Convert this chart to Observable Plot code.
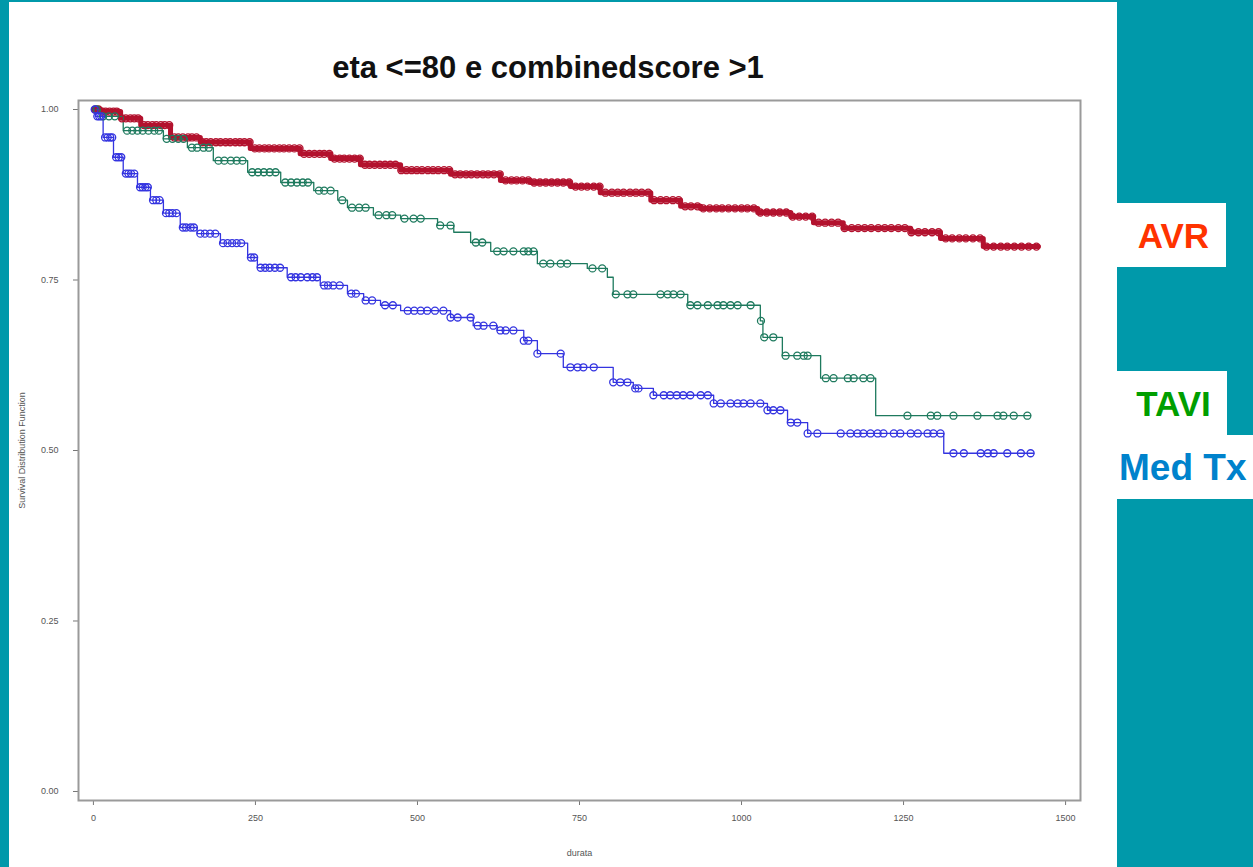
<!DOCTYPE html>
<html>
<head>
<meta charset="utf-8">
<script src="https://cdn.jsdelivr.net/npm/d3@7"></script>
<script src="https://cdn.jsdelivr.net/npm/@observablehq/plot@0.6"></script>
<style>
html,body{margin:0;padding:0;}
body{width:1253px;height:867px;background:#0099AA;position:relative;overflow:hidden;font-family:"Liberation Sans",Arial,sans-serif;}
#panel{position:absolute;left:9px;top:2px;width:1108px;height:865px;background:#fff;}
#title{position:absolute;left:9px;width:1078px;top:52px;line-height:31px;text-align:center;font-weight:bold;font-size:31px;color:#111;}
#chart{position:absolute;left:9px;top:90px;}
.box{position:absolute;background:#fff;}
.lab{position:absolute;font-weight:bold;white-space:nowrap;}
</style>
</head>
<body>
<div id="panel"></div>
<div id="title">eta &lt;=80 e combinedscore &gt;1</div>
<div id="chart"></div>
<div class="box" style="left:1117px;top:203px;width:109px;height:64px;"></div>
<div class="box" style="left:1117px;top:371px;width:110px;height:64px;"></div>
<div class="box" style="left:1117px;top:435px;width:136px;height:64px;"></div>
<div class="lab" id="labAVR" style="left:1117px;width:113px;text-align:center;top:218px;font-size:35px;line-height:35px;color:#FF3300;"></div>
<div class="lab" id="labTAVI" style="left:1117px;width:113px;text-align:center;top:386px;font-size:35px;line-height:35px;color:#009E00;"></div>
<div class="lab" id="labMED" style="left:1119px;top:449px;font-size:37px;line-height:37px;color:#0082CC;"></div>
<script>
// ---- data ----
const groupNames = ["AVR", "TAVI", "Med Tx"];
const groupColors = ["#B3122E", "#1E7A5E", "#3434E0"];

const xTicks = [0, 250, 500, 750, 1000, 1250, 1500];
const yTicks = [0, 0.25, 0.5, 0.75, 1.0];

// AVR step curve
const avrTime = [0, 11, 42, 73, 119, 165, 242, 319, 366, 412, 474, 551, 628, 674, 736, 782, 860, 906, 937, 1025, 1076, 1111, 1157, 1261, 1307, 1373, 1458];
const avrSurv = [1.0, 0.997, 0.987, 0.977, 0.959, 0.952, 0.943, 0.935, 0.928, 0.919, 0.911, 0.905, 0.896, 0.893, 0.887, 0.878, 0.867, 0.858, 0.855, 0.849, 0.843, 0.834, 0.826, 0.820, 0.811, 0.799, 0.799];
const avrCensor = [3,8,14,19,25,31,36,44,50,57,63,69,78,84,91,97,104,110,117,125,131,138,146,152,159,168,174,181,189,196,204,211,219,226,233,241,249,256,264,271,279,287,294,302,310,318,325,333,341,349,356,364,372,380,387,395,403,411,419,426,434,442,450,458,466,475,483,491,499,507,516,524,532,541,549,558,566,575,583,592,601,609,618,627,636,645,653,662,671,680,689,698,707,716,725,734,744,753,762,772,781,790,800,809,818,828,837,846,856,865,875,884,894,903,913,922,932,941,951,961,970,980,990,1000,1009,1019,1029,1039,1049,1059,1069,1079,1089,1099,1109,1119,1129,1139,1149,1159,1170,1180,1190,1200,1211,1221,1231,1242,1252,1262,1273,1283,1294,1304,1315,1325,1336,1346,1357,1368,1378,1389,1400,1410,1421,1432,1443,1455];

// TAVI step curve
const taviTime = [0, 11, 46, 108, 145, 185, 238, 289, 340, 377, 392, 432, 474, 531, 556, 582, 613, 685, 762, 793, 802, 917, 1029, 1033, 1063, 1122, 1207, 1446];
const taviSurv = [1.0, 0.99, 0.969, 0.957, 0.944, 0.925, 0.908, 0.893, 0.881, 0.867, 0.856, 0.845, 0.840, 0.830, 0.820, 0.805, 0.792, 0.774, 0.767, 0.754, 0.729, 0.713, 0.690, 0.666, 0.639, 0.606, 0.551, 0.551];
const taviCensor = [5,15,24,33,52,60,68,76,85,94,101,113,122,131,139,152,160,170,178,193,202,212,221,230,245,254,263,272,281,296,305,314,323,331,348,356,366,384,399,410,420,440,452,461,480,494,505,535,551,590,600,623,633,648,664,671,679,694,705,721,731,770,785,806,824,833,875,886,895,906,921,932,948,963,972,983,994,1014,1030,1035,1049,1068,1086,1096,1102,1130,1142,1164,1173,1188,1199,1256,1292,1302,1327,1364,1395,1404,1420,1441];

// Med Tx step curve
const medTime = [0, 3, 15, 31, 46, 68, 88, 108, 134, 160, 196, 238, 253, 299, 350, 392, 417, 443, 474, 551, 586, 623, 664, 685, 725, 802, 833, 864, 957, 1040, 1071, 1102, 1312, 1451];
const medSurv = [1.0, 0.99, 0.959, 0.930, 0.906, 0.886, 0.867, 0.848, 0.827, 0.818, 0.804, 0.783, 0.768, 0.754, 0.742, 0.730, 0.720, 0.713, 0.705, 0.695, 0.683, 0.676, 0.661, 0.642, 0.622, 0.600, 0.591, 0.581, 0.569, 0.559, 0.541, 0.525, 0.496, 0.496];
const medCensor = [2,6,9,12,18,22,26,29,35,39,43,50,54,58,63,72,76,80,84,92,97,102,112,117,122,128,138,143,150,155,165,172,180,188,200,207,214,221,228,243,248,258,265,272,280,288,305,312,320,330,338,345,356,362,370,380,398,405,420,430,450,462,485,495,505,515,527,540,551,562,582,593,602,617,628,636,648,664,671,685,721,736,747,756,772,802,813,824,836,841,864,880,890,900,910,921,937,948,957,968,983,994,1003,1014,1029,1040,1049,1060,1076,1086,1102,1117,1153,1168,1179,1188,1199,1210,1219,1235,1245,1261,1272,1287,1296,1307,1327,1343,1369,1380,1389,1410,1431,1446];

// ---- build tables ----
document.getElementById("labAVR").textContent = groupNames[0];
document.getElementById("labTAVI").textContent = groupNames[1];
document.getElementById("labMED").textContent = groupNames[2];

const series = [
  {name: groupNames[0], time: avrTime, surv: avrSurv, censor: avrCensor, color: groupColors[0]},
  {name: groupNames[1], time: taviTime, surv: taviSurv, censor: taviCensor, color: groupColors[1]},
  {name: groupNames[2], time: medTime, surv: medSurv, censor: medCensor, color: groupColors[2]}
];
function survAt(s, t) {
  let v = s.surv[0];
  for (let i = 0; i < s.time.length; i++) if (s.time[i] <= t) v = s.surv[i];
  return v;
}
const lineRows = series.flatMap(s => s.time.map((t, i) => ({group: s.name, t, s: s.surv[i]})));
const dotRows = series.flatMap(s => s.censor.map(t => ({group: s.name, t, s: survAt(s, t)})));

const plot = Plot.plot({
  width: 1108,
  height: 777,
  marginLeft: 69,
  marginRight: 37,
  marginTop: 10,
  marginBottom: 67,
  style: {background: "transparent", fontFamily: "'Liberation Sans', Arial, sans-serif", fontSize: "9px", color: "#555"},
  x: {domain: [-23, 1523]},
  y: {domain: [-0.0132, 1.0132]},
  color: {domain: groupNames, range: groupColors},
  marks: [
    Plot.axisX({ticks: xTicks, tickFormat: d => String(d), tickSize: 5, tickPadding: 9, stroke: "#777", label: "durata", labelAnchor: "center", labelOffset: 55, labelArrow: false}),
    Plot.axisY({ticks: yTicks, tickFormat: d3.format(".2f"), tickSize: 5, tickPadding: 15, stroke: "#777", label: "Survival Distribution Function", labelAnchor: "center", labelOffset: 60, labelArrow: false}),
    Plot.line(lineRows.filter(d => d.group === groupNames[0]), {x: "t", y: "s", stroke: groupColors[0], strokeWidth: 5, curve: "step-after"}),
    Plot.line(lineRows.filter(d => d.group !== groupNames[0]), {x: "t", y: "s", z: "group", stroke: "group", strokeWidth: 1.3, curve: "step-after"}),
    Plot.dot(dotRows, {x: "t", y: "s", stroke: "group", fill: "none", r: 3.5, strokeWidth: 1.3}),
    Plot.frame({stroke: "#9a9a9a", strokeWidth: 2})
  ]
});
document.getElementById("chart").appendChild(plot);
</script>
</body>
</html>
